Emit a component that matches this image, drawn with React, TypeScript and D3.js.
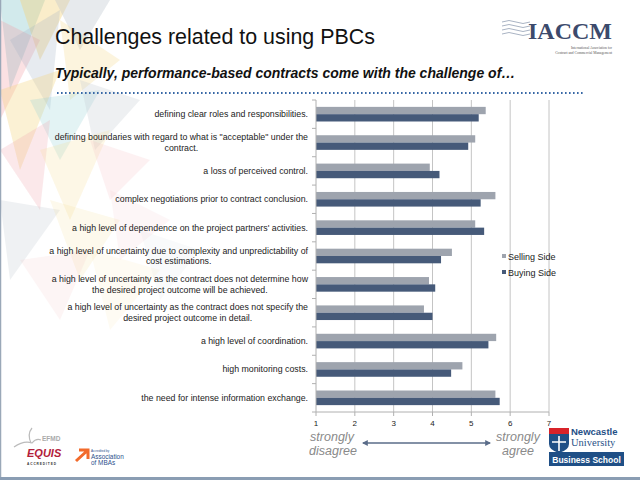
import React, { useEffect, useRef } from 'react';
import * as d3 from 'd3';

// Chart data
const categories: string[] = [
  'defining clear roles and responsibilities.',
  'defining boundaries with regard to what is "acceptable" under the\ncontract.',
  'a loss of perceived control.',
  'complex negotiations prior to contract conclusion.',
  "a high level of dependence on the project partners' activities.",
  'a high level of uncertainty due to complexity and unpredictability of\ncost estimations.',
  'a high level of uncertainty as the contract does not determine how\nthe desired project outcome will be achieved.',
  'a high level of uncertainty as the contract does not specify the\ndesired project outcome in detail.',
  'a high level of coordination.',
  'high monitoring costs.',
  'the need for intense information exchange.',
];

const sellingSide: number[] = [5.37, 5.1, 3.93, 5.62, 5.1, 4.5, 3.91, 3.78, 5.64, 4.77, 5.62];
const buyingSide: number[] = [5.19, 4.92, 4.18, 5.24, 5.33, 4.22, 4.07, 4.0, 5.44, 4.48, 5.73];

const seriesNames = ['Selling Side', 'Buying Side'];
const seriesColors = ['#9ea4ae', '#465a79'];
const xTicks = [1, 2, 3, 4, 5, 6, 7];

// decorative background triangles of the slide template
const decoTriangles: { pts: [number, number][]; color: string; op: number }[] = [
  { pts: [[0, 0], [45, 0], [10, 90]], color: '#7fc4c9', op: 0.35 },
  { pts: [[20, 0], [70, 0], [40, 60]], color: '#f3d27a', op: 0.4 },
  { pts: [[55, 0], [110, 0], [80, 50]], color: '#b9c2cc', op: 0.35 },
  { pts: [[0, 20], [40, 40], [0, 120]], color: '#f29aa3', op: 0.3 },
  { pts: [[10, 40], [60, 10], [50, 110]], color: '#9fb0c4', op: 0.25 },
  { pts: [[60, 20], [120, 60], [70, 100]], color: '#f5d98a', op: 0.28 },
  { pts: [[0, 90], [60, 70], [20, 170]], color: '#f3d27a', op: 0.32 },
  { pts: [[30, 100], [100, 90], [60, 160]], color: '#8ecfd2', op: 0.25 },
  { pts: [[80, 80], [140, 100], [95, 150]], color: '#c3c9d1', op: 0.28 },
  { pts: [[0, 150], [50, 120], [40, 210]], color: '#f0a4ab', op: 0.25 },
  { pts: [[40, 150], [110, 130], [70, 220]], color: '#f6dc95', op: 0.24 },
  { pts: [[90, 140], [150, 160], [110, 200]], color: '#f4b7bc', op: 0.2 },
  { pts: [[0, 200], [60, 210], [10, 280]], color: '#b6c0ca', op: 0.22 },
  { pts: [[50, 200], [120, 220], [80, 280]], color: '#f5d98a', op: 0.16 },
  { pts: [[110, 190], [170, 220], [120, 260]], color: '#f3c0c4', op: 0.14 },
  { pts: [[20, 260], [90, 250], [60, 320]], color: '#f4b6bb', op: 0.14 },
  { pts: [[90, 250], [160, 270], [110, 330]], color: '#f6dc95', op: 0.11 },
  { pts: [[140, 230], [200, 250], [160, 300]], color: '#cbd8e0', op: 0.12 },
];

const App: React.FC = () => {
  const svgRef = useRef<SVGSVGElement>(null);

  useEffect(() => {
    if (!svgRef.current) return;
    const svg = d3.select(svgRef.current);
    svg.selectAll('*').remove();

    const font = 'Arial, "Liberation Sans", Helvetica, sans-serif';
    const width = 640;
    const height = 480;

    svg.append('rect').attr('width', width).attr('height', height).attr('fill', '#ffffff');

    // background triangles
    svg.append('g')
      .selectAll('polygon')
      .data(decoTriangles)
      .enter()
      .append('polygon')
      .attr('points', d => d.pts.map(p => p.join(',')).join(' '))
      .attr('fill', d => d.color)
      .attr('opacity', d => d.op);

    // slide frame
    svg.append('line').attr('x1', 0.5).attr('x2', 0.5).attr('y1', 0).attr('y2', height)
      .attr('stroke', '#9aa8b8').attr('stroke-width', 1.5);
    svg.append('line').attr('x1', 0).attr('x2', width).attr('y1', 478.5).attr('y2', 478.5)
      .attr('stroke', '#8a9db3').attr('stroke-width', 3);

    // titles
    svg.append('text')
      .attr('x', 55).attr('y', 44)
      .style('font-family', font).style('font-size', '21.4px').style('fill', '#111')
      .text('Challenges related to using PBCs');
    svg.append('text')
      .attr('x', 55).attr('y', 78)
      .style('font-family', font).style('font-size', '14px')
      .style('font-weight', 'bold').style('font-style', 'italic').style('fill', '#111')
      .text('Typically, performance-based contracts come with the challenge of…');
    svg.append('line')
      .attr('x1', 57).attr('x2', 584).attr('y1', 93).attr('y2', 93)
      .attr('stroke', '#3868a6').attr('stroke-width', 2)
      .attr('stroke-dasharray', '1.6 2.4');

    // IACCM logo
    const logo = svg.append('g');
    [0, 1, 2, 3].forEach(i => {
      logo.append('path')
        .attr('d', `M502,${22 + i * 4} q7,-3 14,0 t14,0`)
        .attr('fill', 'none').attr('stroke', '#aab4c4').attr('stroke-width', 1);
    });
    logo.append('text')
      .attr('x', 612).attr('y', 39).attr('text-anchor', 'end')
      .style('font-family', '"Liberation Serif", "DejaVu Serif", serif')
      .style('font-size', '24px').style('font-weight', 'bold').style('fill', '#3c4a6c')
      .text('IACCM');
    logo.append('text')
      .attr('x', 612).attr('y', 49).attr('text-anchor', 'end')
      .style('font-family', '"Liberation Serif", serif').style('font-size', '3.6px').style('fill', '#555')
      .text('International Association for');
    logo.append('text')
      .attr('x', 612).attr('y', 54).attr('text-anchor', 'end')
      .style('font-family', '"Liberation Serif", serif').style('font-size', '3.6px').style('fill', '#555')
      .text('Contract and Commercial Management');

    // chart scales
    const x0 = 316, x1 = 549, yTop = 100, yBottom = 412;
    const xScale = d3.scaleLinear().domain([1, 7]).range([x0, x1]);
    const yScale = d3.scaleBand<string>().domain(categories).range([yTop, yBottom]).paddingInner(0).paddingOuter(0);
    const ySub = d3.scaleBand<string>().domain(seriesNames).range([0, yScale.bandwidth()])
      .paddingInner(0).paddingOuter(0.94);

    const chart = svg.append('g');

    // gridlines
    chart.selectAll('.grid')
      .data(xTicks.slice(1))
      .enter()
      .append('line')
      .attr('x1', d => xScale(d)).attr('x2', d => xScale(d))
      .attr('y1', yTop).attr('y2', yBottom)
      .attr('stroke', '#c4c4c4').attr('stroke-width', 1);

    // bars
    const seriesValues = [sellingSide, buyingSide];
    seriesNames.forEach((name, si) => {
      chart.selectAll(`.bar-${si}`)
        .data(categories)
        .enter()
        .append('rect')
        .attr('x', xScale(1))
        .attr('y', d => (yScale(d) || 0) + (ySub(name) || 0))
        .attr('width', (d, i) => xScale(seriesValues[si][i]) - xScale(1))
        .attr('height', ySub.bandwidth())
        .attr('fill', seriesColors[si]);
    });

    // axes lines
    chart.append('line').attr('x1', x0).attr('x2', x0).attr('y1', yTop).attr('y2', yBottom)
      .attr('stroke', '#b0b0b0');
    chart.append('line').attr('x1', x0).attr('x2', x1).attr('y1', yBottom).attr('y2', yBottom)
      .attr('stroke', '#b0b0b0');
    // category separator ticks
    const sepTicks = categories.map(c => yScale(c) || 0).concat([yBottom]);
    chart.selectAll('.ytick')
      .data(sepTicks)
      .enter()
      .append('line')
      .attr('x1', x0 - 4).attr('x2', x0)
      .attr('y1', d => d).attr('y2', d => d)
      .attr('stroke', '#b0b0b0');
    chart.selectAll('.xtick')
      .data(xTicks)
      .enter()
      .append('line')
      .attr('x1', d => xScale(d)).attr('x2', d => xScale(d))
      .attr('y1', yBottom).attr('y2', yBottom + 4)
      .attr('stroke', '#b0b0b0');
    chart.selectAll('.xlabel')
      .data(xTicks)
      .enter()
      .append('text')
      .attr('x', d => xScale(d)).attr('y', yBottom + 14)
      .attr('text-anchor', 'middle')
      .style('font-family', font).style('font-size', '8px').style('fill', '#222')
      .text(d => String(d));

    // category labels: lines centered, block right-aligned
    const labelRight = 308;
    const lineH = 10.5;
    categories.forEach(cat => {
      const lines = cat.split('\n');
      const cy = (yScale(cat) || 0) + yScale.bandwidth() / 2;
      const g = chart.append('g');
      const texts = lines.map((ln, li) =>
        g.append('text')
          .attr('y', cy + (li - (lines.length - 1) / 2) * lineH + 3)
          .attr('text-anchor', 'middle')
          .style('font-family', font).style('font-size', '8.8px').style('fill', '#222')
          .text(ln)
      );
      const maxW = d3.max(texts, t => (t.node() as SVGTextElement).getComputedTextLength()) || 0;
      texts.forEach(t => t.attr('x', labelRight - maxW / 2));
    });

    // legend
    const legend = svg.append('g');
    seriesNames.forEach((name, i) => {
      const ly = 257 + i * 16;
      legend.append('rect').attr('x', 502).attr('y', ly - 3).attr('width', 4).attr('height', 4)
        .attr('fill', seriesColors[i]);
      legend.append('text').attr('x', 508).attr('y', ly + 3)
        .style('font-family', font).style('font-size', '9px').style('fill', '#222')
        .text(name);
    });

    // scale annotation
    const ann = svg.append('g')
      .style('font-family', font).style('font-size', '12.5px').style('font-style', 'italic')
      .style('fill', '#8a8a8a').attr('text-anchor', 'middle');
    ann.append('text').attr('x', 332).attr('y', 441).text('strongly');
    ann.append('text').attr('x', 333).attr('y', 455).text('disagree');
    ann.append('text').attr('x', 518).attr('y', 441).text('strongly');
    ann.append('text').attr('x', 518).attr('y', 455).text('agree');

    const defs = svg.append('defs');
    defs.append('marker').attr('id', 'arrowhead').attr('viewBox', '0 0 10 10')
      .attr('refX', 8).attr('refY', 5).attr('markerWidth', 4).attr('markerHeight', 4)
      .attr('orient', 'auto-start-reverse')
      .append('path').attr('d', 'M0,0 L10,5 L0,10 z').attr('fill', '#5a6c89');
    svg.append('line').attr('x1', 363).attr('x2', 490).attr('y1', 443).attr('y2', 443)
      .attr('stroke', '#5a6c89').attr('stroke-width', 1.5)
      .attr('marker-start', 'url(#arrowhead)').attr('marker-end', 'url(#arrowhead)');

    // Newcastle University logo
    const nu = svg.append('g');
    nu.append('rect').attr('x', 549).attr('y', 428).attr('width', 20).attr('height', 6).attr('fill', '#d8232a');
    nu.append('path').attr('d', 'M549,434 L569,434 L569,444 Q569,450 559,453 Q549,450 549,444 Z').attr('fill', '#1f4f86');
    nu.append('path').attr('d', 'M559,436 L559,451 M552,442 L566,442').attr('stroke', '#fff').attr('stroke-width', 1.6);
    nu.append('text').attr('x', 571).attr('y', 435)
      .style('font-family', font).style('font-size', '9.5px').style('font-weight', 'bold').style('fill', '#1f4f86')
      .text('Newcastle');
    nu.append('text').attr('x', 571).attr('y', 446)
      .style('font-family', '"Liberation Serif", serif').style('font-size', '10.5px').style('fill', '#1f4f86')
      .text('University');
    nu.append('rect').attr('x', 549).attr('y', 452).attr('width', 75).attr('height', 14).attr('fill', '#1f4f86');
    nu.append('text').attr('x', 586.5).attr('y', 462.5).attr('text-anchor', 'middle')
      .style('font-family', font).style('font-size', '8.5px').style('font-weight', 'bold').style('fill', '#fff')
      .text('Business School');

    // EFMD EQUIS / AMBA logos
    const lg = svg.append('g');
    lg.append('path').attr('d', 'M31,443 Q27,434 32,428').attr('fill', 'none').attr('stroke', '#bbb').attr('stroke-width', 1.2);
    lg.append('path').attr('d', 'M14,447 Q24,440 32,443 Q36,438 41,440').attr('fill', 'none').attr('stroke', '#bbb').attr('stroke-width', 1.2);
    lg.append('text').attr('x', 42).attr('y', 441)
      .style('font-family', font).style('font-size', '6.5px').style('font-weight', 'bold').style('fill', '#aaa')
      .text('EFMD');
    lg.append('text').attr('x', 27).attr('y', 457)
      .style('font-family', font).style('font-size', '11px').style('font-weight', 'bold')
      .style('font-style', 'italic').style('fill', '#b3213a')
      .text('EQUIS');
    lg.append('text').attr('x', 27).attr('y', 464.5)
      .style('font-family', font).style('font-size', '3.2px').style('font-weight', 'bold')
      .style('letter-spacing', '0.9px').style('fill', '#333')
      .text('ACCREDITED');
    lg.append('path').attr('d', 'M76,461 L88,450 M79,450 L88,450 L88,459')
      .attr('fill', 'none').attr('stroke', '#f26a2b').attr('stroke-width', 3);
    lg.append('text').attr('x', 91).attr('y', 452)
      .style('font-family', font).style('font-size', '3px').style('fill', '#2b4f8c')
      .text('Accredited by');
    lg.append('text').attr('x', 91).attr('y', 459)
      .style('font-family', font).style('font-size', '6.4px').style('fill', '#2b4f8c')
      .text('Association');
    lg.append('text').attr('x', 91).attr('y', 465)
      .style('font-family', font).style('font-size', '6.4px').style('fill', '#2b4f8c')
      .text('of MBAs');
  }, []);

  return (
    <svg
      ref={svgRef}
      width={640}
      height={480}
      style={{ position: 'absolute', left: 0, top: 0, display: 'block' }}
    />
  );
};

export default App;
